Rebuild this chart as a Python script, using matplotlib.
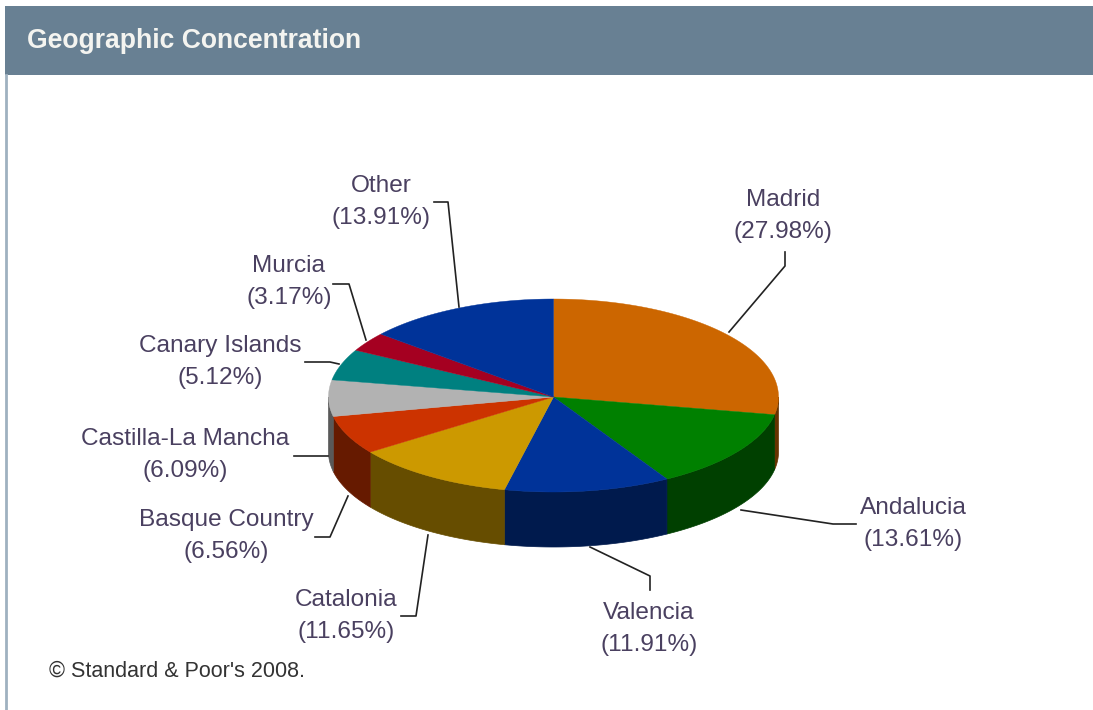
import numpy as np
import matplotlib
matplotlib.use("Agg")
import matplotlib.pyplot as plt
from matplotlib.patches import Polygon, Rectangle

# Slices, clockwise from 12 o'clock
regions = ["Madrid", "Andalucia", "Valencia", "Catalonia", "Basque Country",
           "Castilla-La Mancha", "Canary Islands", "Murcia", "Other"]
shares = [27.98, 13.61, 11.91, 11.65, 6.56, 6.09, 5.12, 3.17, 13.91]
top_colors = ["#cc6600", "#008000", "#003399", "#cc9900", "#cc3300",
              "#b2b2b2", "#008080", "#a50021", "#003399"]
side_colors = ["#663300", "#004000", "#001a4d", "#664d00", "#661a00",
               "#595959", "#004040", "#500010", "#001a4d"]

# Label block centre and leader line for each region
label_pos = [(783, 216), (913, 524), (649, 629), (346, 616), (226, 536),
             (185, 455), (220, 362), (289, 282), (381, 202)]
leaders = [
    [(785, 252), (785, 266), (729, 332)],
    [(741, 510), (833, 524), (856, 524)],
    [(590, 547), (650, 576), (650, 590)],
    [(428, 535), (416, 616), (401, 616)],
    [(348, 496), (330, 537), (315, 537)],
    [(328, 456), (294, 456)],
    [(339, 364), (330, 362), (305, 362)],
    [(366, 340), (349, 284), (333, 284)],
    [(459, 307), (448, 202), (434, 202)],
]

cx, cy = 553.5, 397
rx = 225
ry_back, ry_front = 98, 95
depth = 55

W, H = 1093, 710
fig = plt.figure(figsize=(W / 100, H / 100), dpi=100, facecolor="white")
ax = fig.add_axes([0, 0, 1, 1])
ax.set_xlim(0, W)
ax.set_ylim(H, 0)
ax.axis("off")


def rim(a0, a1):
    t = np.linspace(a0, a1, 90)
    c = np.cos(t)
    return cx + rx * np.sin(t), cy - np.where(c > 0, ry_back, ry_front) * c


# header band and panel edge
ax.add_patch(Rectangle((5, 6), W, 69, fc="#688093", ec="none", zorder=1))
ax.plot([6, 6], [75, H], color="#9fb1c0", lw=2, zorder=1)
ax.text(27, 41, "Geographic Concentration", color="#f4f4f0", fontsize=19.1,
        fontweight="bold", family="Liberation Sans", va="center", zorder=2)

edges = np.cumsum([0] + shares) / 100 * 2 * np.pi

# side walls only on the near half of the ellipse
for i in range(len(shares)):
    lo = max(edges[i], np.pi / 2)
    hi = min(edges[i + 1], 3 * np.pi / 2)
    if hi <= lo:
        continue
    x, y = rim(lo, hi)
    pts = np.r_[np.c_[x, y], np.c_[x[::-1], y[::-1] + depth]]
    ax.add_patch(Polygon(pts, fc=side_colors[i], ec=side_colors[i], lw=0.5, zorder=3))

# top face
for i in range(len(shares)):
    x, y = rim(edges[i], edges[i + 1])
    pts = np.r_[[[cx, cy]], np.c_[x, y]]
    ax.add_patch(Polygon(pts, fc=top_colors[i], ec=top_colors[i], lw=0.3, zorder=4))

# labels and leaders
for name, share, (lx, ly), line in zip(regions, shares, label_pos, leaders):
    ax.text(lx, ly, f"{name}\n({share:.2f}%)", ha="center", va="center",
            fontsize=17.6, family="Liberation Sans", color="#4a4060",
            linespacing=1.58, zorder=6)
    xs, ys = zip(*line)
    ax.plot(xs, ys, color="#222222", lw=1.2, zorder=5)

ax.text(49, 671, "© Standard & Poor's 2008.", fontsize=15.5,
        family="Liberation Sans", color="#333333", va="center", zorder=6)

fig.savefig("out.png", dpi=100)
